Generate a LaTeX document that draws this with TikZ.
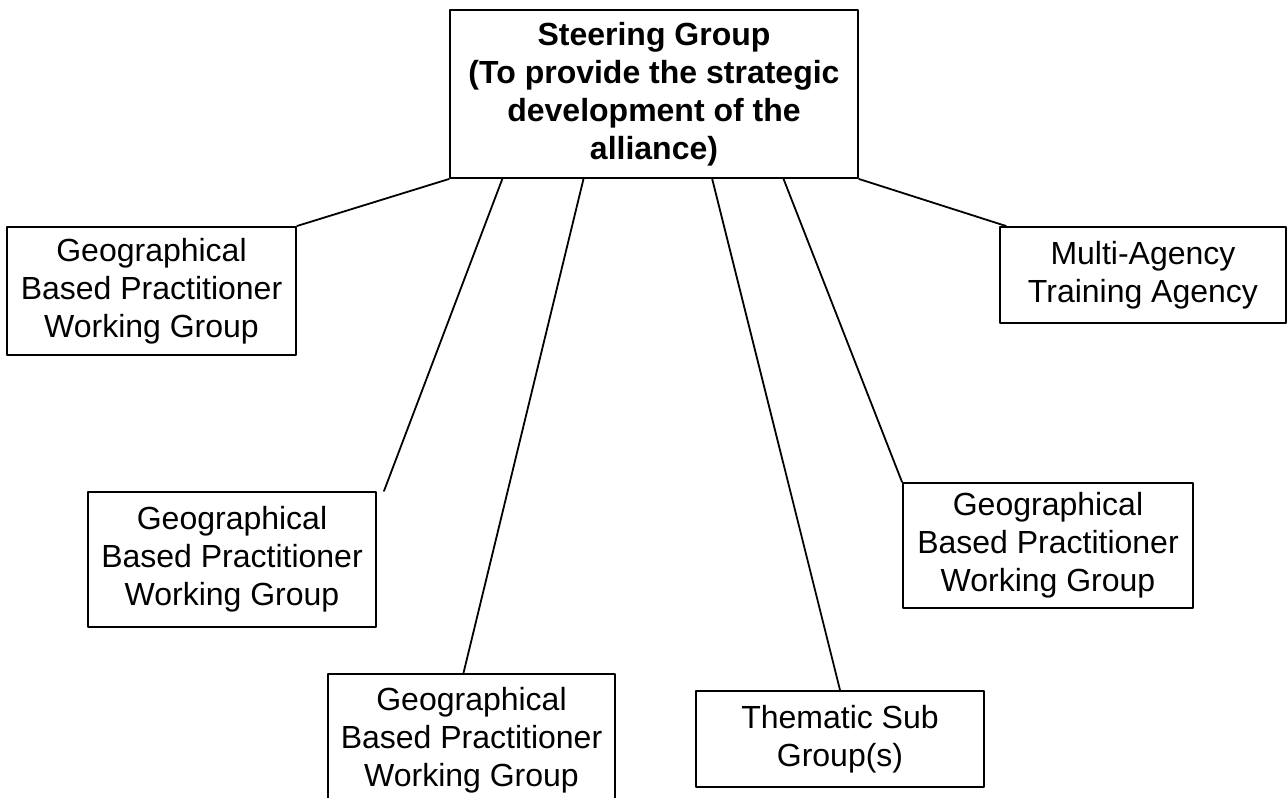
\documentclass[tikz,border=0pt]{standalone}
\usepackage{fontspec}
\setmainfont{Liberation Sans}
\usetikzlibrary{calc}

\begin{document}
\begin{tikzpicture}[x=0.5pt,y=-0.5pt,line cap=round,line join=round,
    groupbox/.style={draw,line width=1pt,inner sep=0pt,align=center,
      font=\fontsize{16pt}{19pt}\selectfont},
    link/.style={line width=0.9pt}]
    \clip (0,0) rectangle (1287,798);
    % top of the alliance
    \node[groupbox,minimum width=204pt,minimum height=84pt,
      font=\fontsize{16pt}{19pt}\selectfont\bfseries] (steer) at (654,94)
      {Steering Group\\(To provide the strategic\\development of the\\alliance)};
    % groups below
    \node[groupbox,minimum width=144.5pt,minimum height=64pt] (geoA) at (151.5,291)
      {Geographical\\Based Practitioner\\Working Group};
    \node[groupbox,minimum width=144pt,minimum height=67.5pt] (geoB) at (232,559.5)
      {Geographical\\Based Practitioner\\Working Group};
    \node[groupbox,minimum width=143.5pt,minimum height=66pt] (geoC) at (471.5,740)
      {Geographical\\Based Practitioner\\Working Group};
    \node[groupbox,minimum width=144pt,minimum height=48pt] (theme) at (840,739)
      {Thematic Sub\\Group(s)};
    \node[groupbox,minimum width=145pt,minimum height=62.5pt] (geoD) at (1048,545.5)
      {Geographical\\Based Practitioner\\Working Group};
    \node[groupbox,minimum width=143pt,minimum height=48pt] (multi) at (1143,275)
      {Multi-Agency\\Training Agency};
    % connectors
    \draw[link] (steer.south west) -- (geoA.north east);
    \draw[link] ($(steer.south west)!0.13!(steer.south east)$) -- ([xshift=3.5pt]geoB.north east);
    \draw[link] ($(steer.south west)!0.328!(steer.south east)$) -- ([xshift=-4pt]geoC.north);
    \draw[link] ($(steer.south west)!0.642!(steer.south east)$) -- (theme.north);
    \draw[link] ($(steer.south west)!0.816!(steer.south east)$) -- (geoD.north west);
    \draw[link] (steer.south east) -- ([xshift=3.5pt]multi.north west);
\end{tikzpicture}
\end{document}
